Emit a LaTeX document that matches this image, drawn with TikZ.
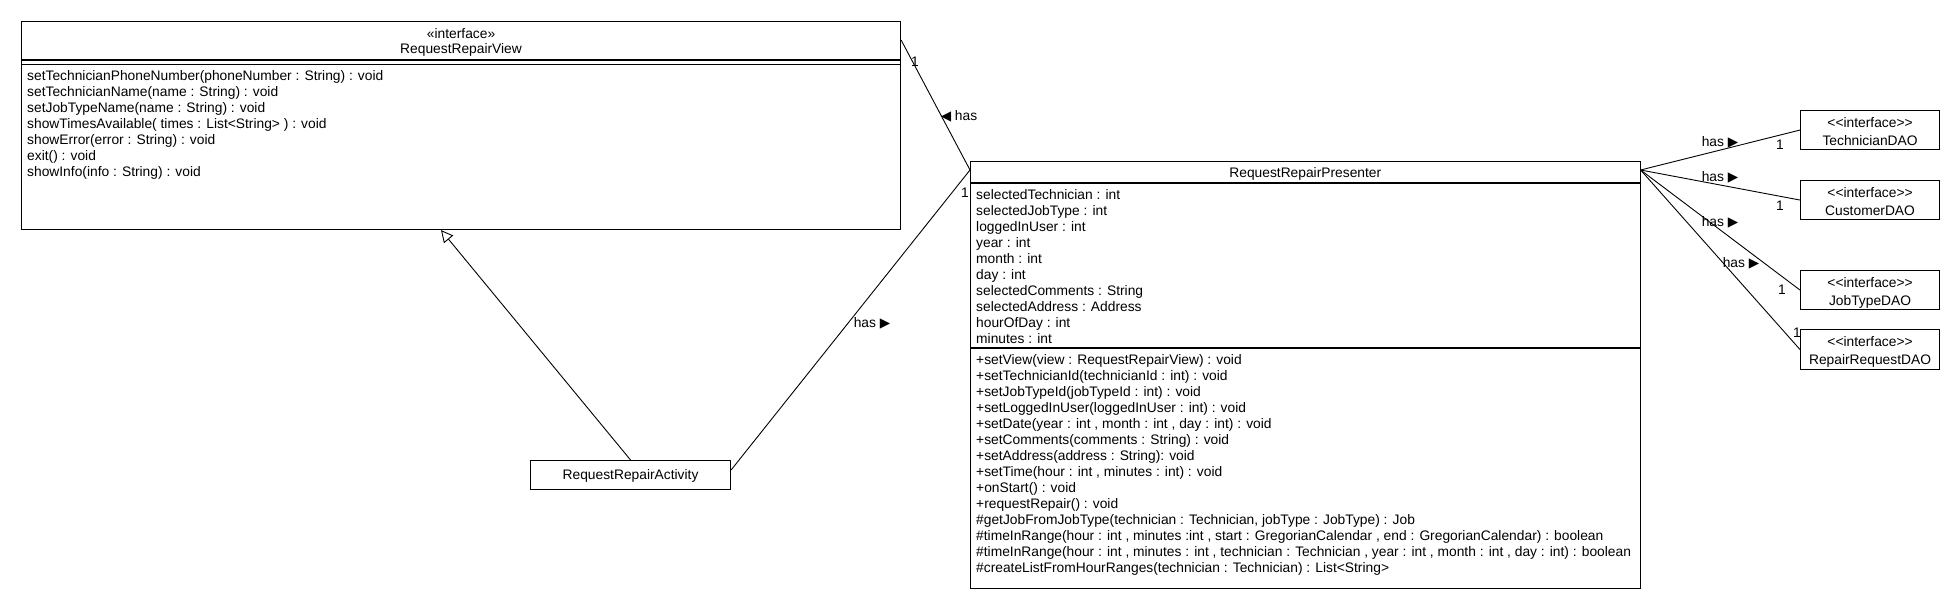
\documentclass[tikz,border=0pt]{standalone}
\usepackage{fontspec}
\setmainfont{Liberation Sans}
\newfontfamily\symfont{DejaVu Sans}
\usetikzlibrary{arrows.meta,calc}
\newcommand\rtri{{\symfont\fontsize{13.5}{13.5}\selectfont ▶}}
\newcommand\ltri{{\symfont\fontsize{13.5}{13.5}\selectfont ◀}}
\begin{document}
\begin{tikzpicture}[x=1pt,y=-1pt,
  box/.style={draw, line width=1.1pt, rectangle, inner sep=0pt, anchor=north west},
  rule/.style={line width=1.1pt},
  txt/.style={font=\fontsize{13.8}{16}\selectfont, inner sep=0pt},
  conn/.style={line width=0.9pt},
  genarrow/.style={-{Triangle[open,length=12pt,width=12pt]}}]
\useasboundingbox (0,0) rectangle (1960,610);

% ---------- RequestRepairView ----------
\node[box, minimum width=879pt, minimum height=208pt] (view) at (21,21) {};
\node[txt, anchor=base] (viewst) at ($(view.north)+(0,17.5)$) {«interface»};
\node[txt, anchor=base] (viewnm) at ($(view.north)+(0,33)$) {RequestRepairView};
\draw[rule] ($(view.north west)+(0,39)$) -- ($(view.north east)+(0,39)$);
\draw[rule] ($(view.north west)+(0,43.5)$) -- ($(view.north east)+(0,43.5)$);
\foreach \t [count=\i from 0] in {
  {setTechnicianPhoneNumber(phoneNumber : String) : void},
  {setTechnicianName(name : String) : void},
  {setJobTypeName(name : String) : void},
  {showTimesAvailable( times : List<String> ) : void},
  {showError(error : String) : void},
  {exit() : void},
  {showInfo(info : String) : void}}
  \node[txt, anchor=base west] (vm\i) at ($(view.north west)+(6,59.5+16*\i)$) {\t};

% ---------- RequestRepairPresenter ----------
\node[box, minimum width=669.5pt, minimum height=427.5pt] (pres) at (970,160.5) {};
\node[txt, anchor=base] (presnm) at ($(pres.north)+(0,17)$) {RequestRepairPresenter};
\draw[rule] ($(pres.north west)+(0,22.5)$) -- ($(pres.north east)+(0,22.5)$);
\draw[rule] ($(pres.north west)+(0,187.5)$) -- ($(pres.north east)+(0,187.5)$);
\foreach \t [count=\i from 0] in {
  {selectedTechnician : int},
  {selectedJobType : int},
  {loggedInUser : int},
  {year : int},
  {month : int},
  {day : int},
  {selectedComments : String},
  {selectedAddress : Address},
  {hourOfDay : int},
  {minutes : int}}
  \node[txt, anchor=base west] (pa\i) at ($(pres.north west)+(6,38.5+16*\i)$) {\t};
\foreach \t [count=\i from 0] in {
  {+setView(view : RequestRepairView) : void},
  {+setTechnicianId(technicianId : int) : void},
  {+setJobTypeId(jobTypeId : int) : void},
  {+setLoggedInUser(loggedInUser : int) : void},
  {+setDate(year : int , month : int , day : int) : void},
  {+setComments(comments : String) : void},
  {+setAddress(address : String): void},
  {+setTime(hour : int , minutes : int) : void},
  {+onStart() : void},
  {+requestRepair() : void},
  {\#getJobFromJobType(technician : Technician, jobType : JobType) : Job},
  {\#timeInRange(hour : int , minutes :int , start : GregorianCalendar , end : GregorianCalendar) : boolean},
  {\#timeInRange(hour : int , minutes : int , technician : Technician , year : int , month : int , day : int) : boolean},
  {\#createListFromHourRanges(technician : Technician) : List<String>}}
  \node[txt, anchor=base west] (pm\i) at ($(pres.north west)+(6,203.5+16*\i)$) {\t};

% ---------- RequestRepairActivity ----------
\node[box, minimum width=200pt, minimum height=29pt] (act) at (530,460) {};
\node[txt, anchor=base] (actnm) at ($(act.north)+(0,19)$) {RequestRepairActivity};

% ---------- DAO interfaces ----------
\foreach \n/\y/\h/\nm in {tech/110/39/TechnicianDAO, cust/180/39/CustomerDAO, jobt/270/39/JobTypeDAO, rreq/329/40/RepairRequestDAO} {
  \node[box, minimum width=139pt, minimum height=\h pt] (\n) at (1800,\y) {};
  \node[txt, anchor=base] (\n st) at ($(\n.north)+(0,17)$) {{<}{<}interface{>}{>}};
  \node[txt, anchor=base] (\n nm) at ($(\n.north)+(0,35)$) {\nm};
}

% ---------- connector end points ----------
\coordinate (vR) at ($(view.north east)+(0,19)$);
\coordinate (vB) at ($(view.south west)+(420,0)$);
\coordinate (pL) at ($(pres.north west)+(0,9.5)$);
\coordinate (pR) at ($(pres.north east)+(0,9.5)$);
\coordinate (aR) at ($(act.north east)+(0,10)$);

% ---------- connectors ----------
\draw[conn] (vR) -- (pL);
\draw[conn] (aR) -- (pL);
\draw[conn, genarrow] (act.north) -- (vB);
\draw[conn] (pR) -- (tech.west);
\draw[conn] (pR) -- (cust.west);
\draw[conn] (pR) -- (jobt.west);
\draw[conn] (pR) -- (rreq.west);

% ---------- labels ----------
\node[txt] (l1a) at (915,62) {1};
\node[txt] (l1b) at (959,116) {\ltri\ has};
\node[txt] (l1c) at (965,193) {1};
\node[txt] (l2) at (872,323) {has \rtri};
\node[txt] (l3a) at (1720,142) {has \rtri};
\node[txt] (l3b) at (1780,145) {1};
\node[txt] (l4a) at (1720,177) {has \rtri};
\node[txt] (l4b) at (1780,206) {1};
\node[txt] (l5a) at (1720,222) {has \rtri};
\node[txt] (l5b) at (1782,290) {1};
\node[txt] (l6a) at (1741,263) {has \rtri};
\node[txt] (l6b) at (1797,333) {1};
\end{tikzpicture}
\end{document}
